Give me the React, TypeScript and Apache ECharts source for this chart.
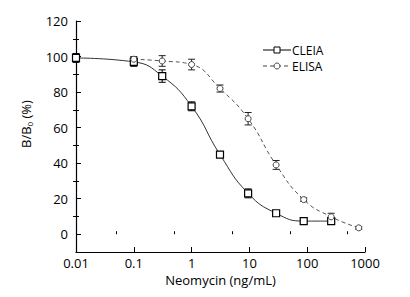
import React, { useEffect, useRef } from "react";
import * as echarts from "echarts";

const cleiaX = [0.01, 0.1, 0.31, 1, 3.1, 9.5, 29, 87, 260];
const cleiaY = [99.2, 97, 89, 72, 44.8, 23, 11.8, 7.4, 7.4];
const cleiaErr = [2.5, 2.5, 3.5, 2.5, 1.5, 2.5, 1.2, 1, 1.5];

const elisaX = [0.1, 0.31, 1, 3.1, 9.5, 29, 87, 260, 780];
const elisaY = [98.5, 97.5, 95.5, 82, 65, 39, 19.5, 9.8, 3.6];
const elisaErr = [1.5, 3, 3, 2, 3.5, 2.5, 1, 2, 0.8];

const seriesNames = ["CLEIA", "ELISA"];

const xTicks = [0.01, 0.1, 1, 10, 100, 1000];
const xMinorTicks = [0.05, 0.5, 5, 50, 500];
const yTicks = [0, 20, 40, 60, 80, 100, 120];
const yMinorTicks = [10, 30, 50, 70, 90, 110];

const FONT = "Open Sans";

function errData(xs: number[], ys: number[], es: number[]) {
  return xs.map((x, i) => [x, ys[i] - es[i], ys[i] + es[i]]);
}

function errRender(color: string) {
  return (params: any, api: any) => {
    const x = api.value(0);
    const lo = api.coord([x, api.value(1)]);
    const hi = api.coord([x, api.value(2)]);
    const w = 3.5;
    const style = { stroke: color, lineWidth: 1 };
    return {
      type: "group",
      children: [
        { type: "line", shape: { x1: lo[0], y1: lo[1], x2: hi[0], y2: hi[1] }, style },
        { type: "line", shape: { x1: lo[0] - w, y1: lo[1], x2: lo[0] + w, y2: lo[1] }, style },
        { type: "line", shape: { x1: hi[0] - w, y1: hi[1], x2: hi[0] + w, y2: hi[1] }, style },
      ],
    };
  };
}

function legendGraphic() {
  const x0 = 263;
  const x1 = 291;
  const ys = [50, 66];
  const cx = (x0 + x1) / 2;
  return [
    { type: "line", shape: { x1: x0, y1: ys[0], x2: x1, y2: ys[0] }, style: { stroke: "#000", lineWidth: 1 } },
    { type: "rect", shape: { x: cx - 3, y: ys[0] - 3, width: 6, height: 6 }, style: { fill: "#fff", stroke: "#000", lineWidth: 1 } },
    { type: "line", shape: { x1: x0, y1: ys[1], x2: x1, y2: ys[1] }, style: { stroke: "#444", lineWidth: 1, lineDash: [4, 3] } },
    { type: "circle", shape: { cx, cy: ys[1], r: 3 }, style: { fill: "#fff", stroke: "#444", lineWidth: 1 } },
    ...seriesNames.map((n, i) => ({
      type: "text",
      x: x1 + 1,
      y: ys[i],
      style: {
        text: n,
        fontFamily: FONT,
        fontSize: 12,
        lineHeight: 14,
        fill: "#000",
        align: "left",
        verticalAlign: "middle",
      },
    })),
  ];
}

export default function App() {
  const ref = useRef<HTMLDivElement>(null);
  useEffect(() => {
    if (!ref.current) return;
    const chart = echarts.init(ref.current, null, { renderer: "svg" });
    const axisLine = { show: true, onZero: false, lineStyle: { color: "#000", width: 1.2 } };
    const baseX = {
      type: "log" as const,
      logBase: 10,
      min: 0.01,
      max: 1000,
      splitLine: { show: false },
    };
    const baseY = {
      type: "value" as const,
      min: -10,
      max: 120,
      splitLine: { show: false },
    };
    chart.setOption({
      animation: false,
      backgroundColor: "#fff",
      grid: { left: 76, right: 45, top: 21, bottom: 45 },
      graphic: [
        {
          type: "text",
          x: 26,
          y: 124,
          rotation: Math.PI / 2,
          style: {
            text: "B/B{sub|0} (%)",
            fontFamily: FONT,
            fontSize: 13,
            fill: "#000",
            align: "center",
            verticalAlign: "middle",
            rich: {
              sub: { fontFamily: FONT, fontSize: 8, fill: "#000", verticalAlign: "bottom", padding: [7, 0, 0, 0] },
            },
          },
        },
        ...legendGraphic(),
      ],
      xAxis: [
        {
          ...baseX,
          axisLine,
          axisTick: { show: true, inside: true, length: 5, customValues: xTicks, lineStyle: { color: "#000" } },
          axisLabel: {
            customValues: xTicks,
            fontFamily: FONT,
            fontSize: 13,
            color: "#000",
            margin: 4,
            formatter: (v: number) => String(v),
          },
          name: "Neomycin (ng/mL)",
          nameLocation: "middle",
          nameGap: 21,
          nameTextStyle: { fontFamily: FONT, fontSize: 13, color: "#000" },
        },
        {
          ...baseX,
          position: "bottom",
          axisLine: { show: false },
          axisTick: { show: true, inside: true, length: 3, customValues: xMinorTicks, lineStyle: { color: "#000" } },
          axisLabel: { show: false },
        },
      ],
      yAxis: [
        {
          ...baseY,
          axisLine,
          axisTick: { show: true, inside: true, length: 5, customValues: yTicks, lineStyle: { color: "#000" } },
          axisLabel: { customValues: yTicks, fontFamily: FONT, fontSize: 13, color: "#000", margin: 8 },
        },
        {
          ...baseY,
          position: "left",
          axisLine: { show: false },
          axisTick: { show: true, inside: true, length: 3, customValues: yMinorTicks, lineStyle: { color: "#000" } },
          axisLabel: { show: false },
        },
        {
          ...baseY,
          position: "left",
          axisLine: { show: false },
          axisTick: { show: true, inside: false, length: 3, customValues: yMinorTicks, lineStyle: { color: "#000" } },
          axisLabel: { show: false },
        },
      ],
      series: [
        {
          name: seriesNames[0],
          type: "line",
          data: cleiaX.map((x, i) => [x, cleiaY[i]]),
          smooth: 0.5,
          symbol: "rect",
          symbolSize: 7,
          itemStyle: { color: "#fff", borderColor: "#000", borderWidth: 1.2 },
          lineStyle: { color: "#333", width: 1 },
          z: 3,
        },
        {
          name: seriesNames[1],
          type: "line",
          data: elisaX.map((x, i) => [x, elisaY[i]]),
          smooth: 0.5,
          symbol: "circle",
          symbolSize: 6,
          itemStyle: { color: "#fff", borderColor: "#444", borderWidth: 1 },
          lineStyle: { color: "#555", width: 1, type: [4, 3] },
          z: 3,
        },
        {
          type: "custom",
          data: errData(cleiaX, cleiaY, cleiaErr),
          renderItem: errRender("#000"),
          encode: { x: 0, y: [1, 2] },
          z: 2,
          silent: true,
        },
        {
          type: "custom",
          data: errData(elisaX, elisaY, elisaErr),
          renderItem: errRender("#222"),
          encode: { x: 0, y: [1, 2] },
          z: 2,
          silent: true,
        },
      ],
    });
    return () => chart.dispose();
  }, []);
  return <div ref={ref} style={{ width: 410, height: 297, margin: -8 }} />;
}
